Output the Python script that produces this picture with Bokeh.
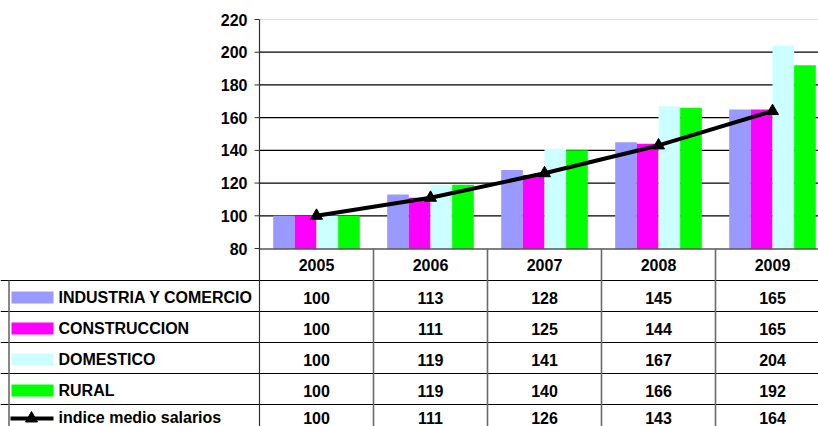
from bokeh.plotting import figure
from bokeh.models import Range1d, ColumnDataSource
from bokeh.transform import dodge
from bokeh.embed import file_html
from bokeh.resources import INLINE
from bokeh.core.properties import value

# ---------------- data ----------------
years = ["2005", "2006", "2007", "2008", "2009"]
series_names = ["INDUSTRIA Y COMERCIO", "CONSTRUCCION", "DOMESTICO", "RURAL"]
industria = [100, 113, 128, 145, 165]
construccion = [100, 111, 125, 144, 165]
domestico = [100, 119, 141, 167, 204]
rural = [100, 119, 140, 166, 192]
indice_label = "indice medio salarios"
indice = [100, 111, 126, 143, 164]
y_ticks = [80, 100, 120, 140, 160, 180, 200, 220]

# ---------------- style / layout ----------------
colors = ["#9999FF", "#FF00FF", "#CCFFFF", "#00FF00"]
FONT = value("Liberation Sans")
FS = "16px"
W, H = 818, 426
PX = 114.0            # pixels per category
LEFT = 259            # pixels from left edge to value axis
AX_Y = 248            # pixels from top edge to the category axis (value 80)
K = 229 / 140.0       # pixels per value unit
LINE_C = "#303030"

x_start = -0.5 - LEFT / PX
x_end = -0.5 + (W - LEFT) / PX
y_min, y_max = y_ticks[0], y_ticks[-1]
vr_start = y_min - (H - AX_Y) / K
vr_end = y_min + AX_Y / K

p = figure(width=W, height=H, output_backend="svg", toolbar_location=None,
           x_range=Range1d(x_start, x_end), y_range=Range1d(vr_start, vr_end),
           x_axis_location=None, y_axis_location=None,
           min_border_left=0, min_border_right=0, min_border_top=0, min_border_bottom=0)
p.extra_y_ranges = {"tbl": Range1d(H - AX_Y, -AX_Y)}   # pixels below the category axis
p.outline_line_color = None
p.grid.visible = False

idx = list(range(len(years)))
series = [industria, construccion, domestico, rural]
keys = ["ind", "con", "dom", "rur"]
src = ColumnDataSource(dict(x=idx, ind=industria, con=construccion,
                            dom=domestico, rur=rural, idx_v=indice))

# ---------------- value axis + grid ----------------
grid_vals = y_ticks[1:-1]
p.segment(x0=[-0.5] * len(grid_vals), y0=grid_vals, x1=[x_end] * len(grid_vals),
          y1=grid_vals, line_color="black", line_width=1.2)
p.segment(x0=[-0.5], y0=[y_max], x1=[x_end], y1=[y_max], line_color="#e0e0e0", line_width=1)
p.segment(x0=[-0.5 - 5 / PX] * len(y_ticks), y0=y_ticks, x1=[-0.5] * len(y_ticks),
          y1=y_ticks, line_color=LINE_C, line_width=1)
p.text(x=[-0.5 - 12 / PX] * len(y_ticks), y=y_ticks, text=[str(v) for v in y_ticks],
       text_font=FONT, text_font_style="bold", text_font_size=FS,
       text_align="right", text_baseline="middle", text_color="black")

# ---------------- bars + line ----------------
bw = 0.19
offsets = [-1.5 * bw, -0.5 * bw, 0.5 * bw, 1.5 * bw]
for k, off, c in zip(keys, offsets, colors):
    p.vbar(x=dodge("x", off), top=k, bottom=y_min, width=bw, source=src,
           fill_color=c, line_color=None)

p.line("x", "idx_v", source=src, line_width=4, line_color="black")
p.scatter("x", "idx_v", source=src, marker="triangle", size=12,
          fill_color="black", line_color="black")

# ---------------- data table ----------------
HEAD = 32
ROWH = 31
row_tops = [HEAD + ROWH * i for i in range(5)]
TB = H - AX_Y
t_kw = dict(y_range_name="tbl")

# horizontal lines
hx0 = [-0.5] + [x_start] * len(row_tops)
hy = [0.5] + row_tops
p.segment(x0=hx0, y0=hy, x1=[x_end] * len(hy), y1=hy, line_color="black", line_width=1, **t_kw)
# value axis line continuing down as table border
p.segment(x0=[-0.5], y0=[-(AX_Y - 19)], x1=[-0.5], y1=[TB], line_color=LINE_C,
          line_width=1.2, **t_kw)
vx = [i + 0.5 for i in idx[:-1]]
p.segment(x0=vx, y0=[0] * len(vx), x1=vx, y1=[TB] * len(vx), line_color="#6a6a6a",
          line_width=1.6, **t_kw)
p.segment(x0=[x_start + 8.5 / PX], y0=[HEAD], x1=[x_start + 8.5 / PX], y1=[TB],
          line_color="#6a6a6a", line_width=1.6, **t_kw)

# header years
p.text(x=idx, y=[HEAD / 2 + 0.5] * len(idx), text=years, text_font=FONT,
       text_font_style="bold", text_font_size=FS, text_align="center",
       text_baseline="middle", text_color="black", **t_kw)

# value cells
rows = series + [indice]
row_mid = [rt + ROWH / 2 + 1.5 for rt in row_tops]
row_mid[-1] = TB - 9
cx, cy, ct = [], [], []
for r, vals in enumerate(rows):
    for i, v in enumerate(vals):
        cx.append(idx[i])
        cy.append(row_mid[r])
        ct.append(str(v))
p.text(x=cx, y=cy, text=ct, text_font=FONT, text_font_style="bold",
       text_font_size=FS, text_align="center", text_baseline="middle",
       text_color="black", **t_kw)

# legend labels
labels = series_names + [indice_label]
p.text(x=[x_start + 58 / PX] * len(labels), y=row_mid, text=labels, text_font=FONT,
       text_font_style="bold", text_font_size=FS, text_align="left",
       text_baseline="middle", text_color="black", **t_kw)

# legend keys
p.rect(x=[x_start + 32 / PX] * 4, y=row_mid[:4],
       width=42 / PX, height=12, fill_color=colors, line_color=None, **t_kw)
ly = row_mid[-1] + 1
p.segment(x0=[x_start + 10 / PX], y0=[ly], x1=[x_start + 53 / PX], y1=[ly],
          line_color="black", line_width=4, **t_kw)
p.scatter(x=[x_start + 31 / PX], y=[ly], marker="triangle", size=12,
          fill_color="black", line_color="black", **t_kw)

open("out.html", "w").write(file_html(p, INLINE))
